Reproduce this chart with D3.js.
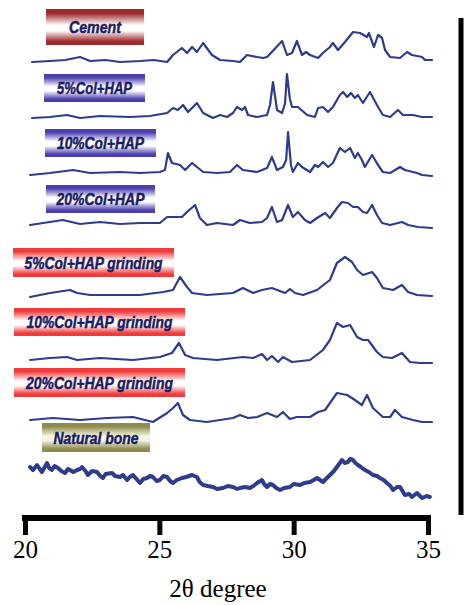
<!DOCTYPE html>
<html>
<head>
<meta charset="utf-8">
<script src="https://cdn.jsdelivr.net/npm/d3@7/dist/d3.min.js"></script>
<style>
  html, body { margin: 0; padding: 0; background: #fff; }
  svg { display: block; }
</style>
</head>
<body>
<svg id="chart" width="464" height="605"></svg>
<script>
// XRD patterns, [2theta, intensity a.u.]
var cement = [[20.26,-1],[20.93,0],[21.5,1],[22.05,4],[22.42,0],[23.0,1],[23.54,-1],[24.3,0],[24.8,1],[25.29,-1],[25.51,6],[25.84,13],[26.03,8],[26.22,14],[26.4,9],[26.63,18],[26.96,6],[27.26,1],[27.74,0],[28.0,-1],[28.26,6],[28.64,4],[28.86,3],[29.01,4],[29.57,20],[29.75,6],[29.94,8],[30.12,20],[30.31,6],[30.46,9],[30.61,6],[30.91,3],[31.09,8],[31.35,14],[31.46,18],[31.65,11],[31.91,19],[32.21,29],[32.47,28],[32.73,24],[32.8,28],[32.99,14],[33.14,26],[33.29,23],[33.4,11],[33.59,4],[33.96,3],[34.22,9],[34.4,6],[34.78,4],[34.89,1],[35.15,1]];

var col5 = [[20.26,-1],[20.93,0],[21.56,2],[22.05,-1],[22.79,1],[23.9,0],[24.65,1],[25.29,4],[25.51,9],[25.69,7],[25.88,12],[26.07,5],[26.4,14],[26.63,4],[27.0,-1],[27.26,2],[27.52,0],[27.74,4],[27.89,10],[28.08,7],[28.19,10],[28.3,2],[28.64,0],[29.01,2],[29.12,12],[29.23,35],[29.38,7],[29.57,4],[29.68,14],[29.75,43],[29.86,18],[29.94,10],[30.16,10],[30.5,2],[30.79,0],[30.91,9],[31.09,10],[31.28,5],[31.46,10],[31.72,22],[31.84,25],[31.99,20],[32.13,24],[32.28,19],[32.39,22],[32.58,14],[32.84,25],[33.1,12],[33.32,2],[33.59,0],[33.88,7],[34.07,2],[34.44,2],[34.78,0],[35.15,0]];

var col10 = [[20.19,-2],[20.93,0],[21.79,3],[22.42,0],[23.54,1],[24.28,0],[25.02,1],[25.21,3],[25.32,20],[25.47,10],[25.77,8],[25.96,3],[26.22,10],[26.4,6],[26.63,1],[27.15,0],[27.63,1],[27.89,8],[28.11,3],[28.64,1],[29.01,5],[29.19,16],[29.38,3],[29.6,6],[29.72,13],[29.79,41],[29.9,8],[29.97,1],[30.16,10],[30.31,6],[30.61,1],[30.79,8],[30.91,6],[31.09,11],[31.28,6],[31.46,10],[31.72,25],[31.91,21],[32.1,25],[32.28,15],[32.39,20],[32.54,13],[32.65,6],[32.92,18],[33.14,8],[33.32,1],[33.59,0],[33.96,6],[34.14,3],[34.59,0],[34.78,-2],[35.15,-3]];

var col20 = [[20.19,-1],[21.41,4],[22.05,0],[22.79,2],[23.54,0],[24.28,1],[25.02,1],[25.29,7],[25.84,7],[26.03,12],[26.33,19],[26.51,6],[26.77,-1],[27.15,1],[27.74,-1],[28.0,4],[28.37,1],[28.82,2],[29.01,6],[29.19,17],[29.38,2],[29.57,4],[29.79,19],[29.97,7],[30.16,12],[30.42,4],[30.61,1],[30.87,6],[31.17,11],[31.35,6],[31.61,16],[31.8,22],[32.02,21],[32.21,17],[32.39,17],[32.58,12],[32.73,11],[32.92,19],[33.1,9],[33.29,1],[33.59,-1],[34.03,2],[34.26,-1],[34.63,-3],[35.15,-4]];

var col5g = [[20.19,-3],[20.93,1],[21.67,4],[21.94,1],[22.42,-1],[23.42,-1],[24.28,-1],[25.14,2],[25.51,4],[25.77,17],[26.03,7],[26.22,1],[26.77,-1],[27.74,1],[28.11,6],[28.49,1],[28.82,4],[29.19,6],[29.68,1],[29.86,5],[30.05,1],[30.35,-1],[30.87,4],[31.35,14],[31.61,31],[31.91,37],[32.17,32],[32.36,24],[32.58,19],[32.92,22],[33.1,16],[33.32,6],[33.7,4],[34.03,9],[34.26,2],[34.59,-1],[35.15,-2]];

var col10g = [[20.19,0],[20.93,2],[21.56,3],[21.94,0],[22.79,2],[24.02,0],[25.02,3],[25.47,7],[25.73,17],[25.96,5],[26.25,2],[27.15,0],[28.11,3],[28.49,2],[28.82,6],[29.01,0],[29.19,4],[29.42,-2],[29.6,3],[29.94,-2],[30.61,0],[31.09,10],[31.35,20],[31.61,37],[31.84,33],[32.1,35],[32.36,23],[32.58,20],[32.77,20],[33.1,8],[33.32,3],[33.66,2],[34.03,7],[34.33,-2],[34.7,-3],[35.15,-3]];

var col20g = [[20.19,-1],[21.04,1],[22.05,-1],[23.05,1],[24.02,2],[24.76,-3],[25.29,6],[25.51,11],[25.69,16],[25.88,4],[26.14,-1],[26.77,-3],[27.74,1],[28.0,4],[28.3,1],[28.64,2],[29.01,6],[29.38,2],[29.6,7],[29.86,0],[30.12,2],[30.61,2],[30.91,7],[31.17,9],[31.61,26],[31.99,24],[32.28,19],[32.54,14],[32.73,24],[32.95,11],[33.32,2],[33.59,2],[33.77,9],[34.03,2],[34.44,-1],[34.78,-3],[35.15,-3]];

var bone = [[20.19,30],[20.3,27],[20.45,32],[20.55,28],[20.63,25],[20.82,34],[20.9,29],[21.0,27],[21.1,31],[21.23,29],[21.35,26],[21.49,24],[21.6,28],[21.67,27],[21.8,25],[21.94,27],[22.05,28],[22.12,30],[22.25,26],[22.34,22],[22.5,26],[22.68,25],[22.8,21],[22.9,19],[23.0,23],[23.24,24],[23.35,21],[23.54,20],[23.65,22],[23.8,17],[23.9,20],[24.02,22],[24.15,18],[24.28,14],[24.4,18],[24.54,19],[24.65,21],[24.76,20],[24.9,16],[25.02,17],[25.15,21],[25.29,20],[25.4,16],[25.51,14],[25.65,17],[25.84,19],[26.0,20],[26.22,22],[26.3,21],[26.4,20],[26.5,15],[26.63,12],[26.8,11],[27.0,10],[27.15,8],[27.37,9],[27.55,11],[27.74,10],[27.9,8],[28.0,9],[28.2,10],[28.37,9],[28.5,11],[28.64,14],[28.82,17],[28.9,13],[29.01,10],[29.12,13],[29.23,12],[29.35,9],[29.49,7],[29.65,9],[29.86,10],[30.0,13],[30.24,12],[30.4,14],[30.61,15],[30.75,17],[30.87,19],[31.09,15],[31.2,18],[31.35,22],[31.5,26],[31.61,30],[31.8,37],[31.9,34],[32.02,35],[32.1,38],[32.21,37],[32.3,34],[32.39,32],[32.5,30],[32.65,27],[32.8,25],[32.95,22],[33.1,21],[33.21,19],[33.35,17],[33.47,14],[33.6,11],[33.7,7],[33.85,10],[33.96,10],[34.05,6],[34.14,2],[34.3,3],[34.4,0],[34.59,4],[34.7,1],[34.78,-1],[34.95,1],[35.07,0]];

var seriesNames = ["Cement", "5%Col+HAP", "10%Col+HAP", "20%Col+HAP",
  "5%Col+HAP grinding", "10%Col+HAP grinding", "20%Col+HAP grinding", "Natural bone"];
var seriesData = [cement, col5, col10, col20, col5g, col10g, col20g, bone];
var xTicks = [20, 25, 30, 35];

// layout (vertical stacking offset in a.u., label box + text width in px)
var seriesOffset = [457, 401, 345, 294, 224, 158, 99, 21];
var labelBox = [
  {x: 46, y: 9,   w: 98,  h: 36, tw: 52,  tone: "cement"},
  {x: 44, y: 74,  w: 101, h: 28, tw: 75,  tone: "blue"},
  {x: 45, y: 129, w: 111, h: 28, tw: 87,  tone: "blue"},
  {x: 46, y: 185, w: 109, h: 28, tw: 88,  tone: "blue"},
  {x: 13, y: 248, w: 161, h: 29, tw: 138, tone: "red"},
  {x: 14, y: 308, w: 171, h: 28, tw: 146, tone: "red"},
  {x: 14, y: 368, w: 171, h: 29, tw: 147, tone: "red"},
  {x: 42, y: 423, w: 108, h: 29, tw: 85,  tone: "olive"}
];
var tones = {
  cement: {edge: "#9e2a2c", mid: "#ffffff"},
  blue:   {edge: "#4a3fae", mid: "#ffffff"},
  red:    {edge: "#f23a3a", mid: "#ffffff"},
  olive:  {edge: "#8e8c4c", mid: "#f6f5e4"}
};

var svg = d3.select("#chart");
var lineColor = "#2e3c8c";

var x = d3.scaleLinear().domain([20, 35]).range([25, 428]);
var y = d3.scaleLinear().domain([0, 500]).range([518, 18]);

// gradients for label boxes
var defs = svg.append("defs");
Object.keys(tones).forEach(function(k) {
  var g = defs.append("linearGradient")
    .attr("id", "grad-" + k)
    .attr("x1", 0).attr("y1", 0).attr("x2", 0).attr("y2", 1);
  g.append("stop").attr("offset", "0%").attr("stop-color", tones[k].edge);
  g.append("stop").attr("offset", "12%").attr("stop-color", tones[k].edge);
  g.append("stop").attr("offset", "45%").attr("stop-color", tones[k].mid);
  g.append("stop").attr("offset", "60%").attr("stop-color", tones[k].mid);
  g.append("stop").attr("offset", "90%").attr("stop-color", tones[k].edge);
  g.append("stop").attr("offset", "100%").attr("stop-color", tones[k].edge);
});

// traces
seriesData.forEach(function(data, i) {
  var off = seriesOffset[i];
  var line = d3.line()
    .x(function(d) { return x(d[0]); })
    .y(function(d) { return y(d[1] + off); })
    .curve(d3.curveLinear);

  svg.append("path")
    .datum(data)
    .attr("fill", "none")
    .attr("stroke", lineColor)
    .attr("stroke-width", i === 7 ? 4 : 2.2)
    .attr("stroke-linejoin", "round")
    .attr("stroke-linecap", "round")
    .attr("d", line);
});

// labels
var labels = svg.append("g").attr("class", "labels");
seriesNames.forEach(function(name, i) {
  var b = labelBox[i];
  labels.append("rect")
    .attr("x", b.x).attr("y", b.y)
    .attr("width", b.w).attr("height", b.h)
    .attr("fill", "url(#grad-" + b.tone + ")");
  labels.append("text")
    .attr("x", b.x + (b.w - b.tw) / 2)
    .attr("y", b.y + b.h / 2 + 6)
    .attr("textLength", b.tw)
    .attr("lengthAdjust", "spacingAndGlyphs")
    .style("font-family", "'Liberation Sans', Arial, sans-serif")
    .style("font-weight", "bold")
    .style("font-style", "italic")
    .style("font-size", "16px")
    .style("fill", "#1b1d64")
    .style("stroke", "#1b1d64")
    .style("stroke-width", 0.5)
    .text(name);
});

// x axis
var axis = d3.axisBottom(x).tickValues(xTicks).tickSize(17).tickFormat(d3.format("d"));
var gx = svg.append("g")
  .attr("transform", "translate(0,518)")
  .call(axis);
gx.select(".domain")
  .attr("d", "M" + (x(20) - 3) + ",0H" + (x(35) + 3))
  .attr("stroke", "#000")
  .attr("stroke-width", 6);
gx.selectAll(".tick line")
  .attr("stroke", "#000")
  .attr("stroke-width", 5);
gx.selectAll(".tick text")
  .attr("y", 22)
  .style("font-family", "'Liberation Serif', 'Times New Roman', serif")
  .style("font-size", "25px")
  .style("fill", "#000");

svg.append("text")
  .attr("x", 218)
  .attr("y", 597)
  .attr("text-anchor", "middle")
  .style("font-family", "'Liberation Serif', 'Times New Roman', serif")
  .style("font-size", "25px")
  .style("fill", "#000")
  .text("2\u03b8 degree");

// right frame bar
svg.append("line")
  .attr("x1", 461).attr("x2", 461)
  .attr("y1", y(500)).attr("y2", 515)
  .attr("stroke", "#000")
  .attr("stroke-width", 5);
</script>
</body>
</html>
